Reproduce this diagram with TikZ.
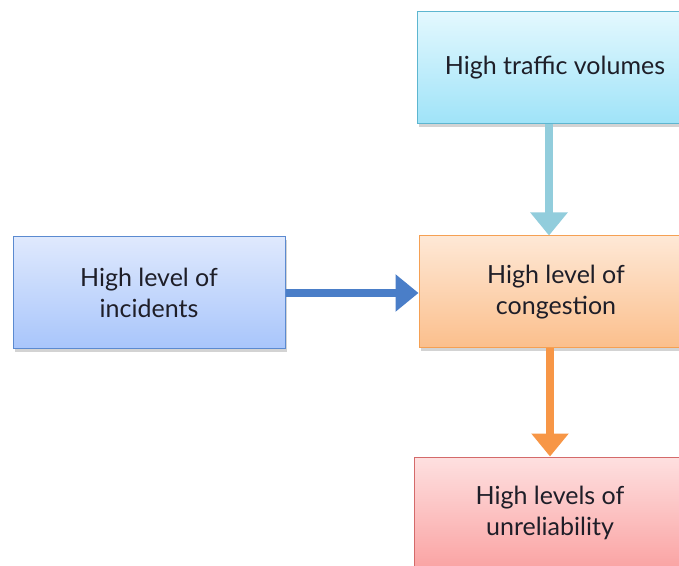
\documentclass[tikz,border=0pt]{standalone}
\usepackage{fontspec}
\setmainfont{Lato}
\definecolor{tBlue}{HTML}{5DB6D0}
\definecolor{tTop}{HTML}{E3F8FE}
\definecolor{tBot}{HTML}{9FE3F8}
\definecolor{iBlue}{HTML}{5B8AD0}
\definecolor{iTop}{HTML}{DFE9FD}
\definecolor{iBot}{HTML}{A8C5FB}
\definecolor{cOrange}{HTML}{F5A053}
\definecolor{cTop}{HTML}{FEE8D6}
\definecolor{cBot}{HTML}{FBBF8C}
\definecolor{uRed}{HTML}{D46A6A}
\definecolor{uTop}{HTML}{FEE0E0}
\definecolor{uBot}{HTML}{FAA3A3}
\definecolor{aTeal}{HTML}{92CDDC}
\definecolor{aBlue}{HTML}{4A7EC8}
\definecolor{aOrange}{HTML}{F79646}
\definecolor{txt}{HTML}{1E1E28}
\usetikzlibrary{arrows.meta, positioning, shadows}

\begin{document}
\begin{tikzpicture}[x=1pt, y=1pt,
  causebox/.style={draw, line width=1pt, minimum width=272pt, minimum height=112pt,
    align=center, font=\fontsize{25}{31}\selectfont, text=txt,
    drop shadow={opacity=0.35, shadow xshift=2pt, shadow yshift=-3pt}},
  flowarrow/.style={line width=8pt, -{Triangle[width=36pt, length=23pt]}}]
\useasboundingbox (0,0) rectangle (679,565);
\clip (0,0) rectangle (679,565);
\node[causebox, draw=tBlue, top color=tTop, bottom color=tBot,
      minimum width=276pt] (traffic) at (555,497) {High traffic volumes};
\node[causebox, draw=iBlue, top color=iTop, bottom color=iBot] (incidents) at (149,272) {High level of\\incidents};
\node[causebox, draw=cOrange, top color=cTop, bottom color=cBot,
      minimum width=274pt] (congestion) at (556,273) {High level of\\congestion};
\node[causebox, draw=uRed, top color=uTop, bottom color=uBot] (unreliability) at (550,52) {High levels of\\unreliability};
\draw[flowarrow, aTeal] (traffic.south -| 549,0) -- (congestion.north -| 549,0);
\draw[flowarrow, aBlue] (incidents.east) -- (incidents.east -| congestion.west);
\draw[flowarrow, aOrange] (congestion.south -| 550,0) -- (unreliability.north -| 550,0);
\end{tikzpicture}
\end{document}
